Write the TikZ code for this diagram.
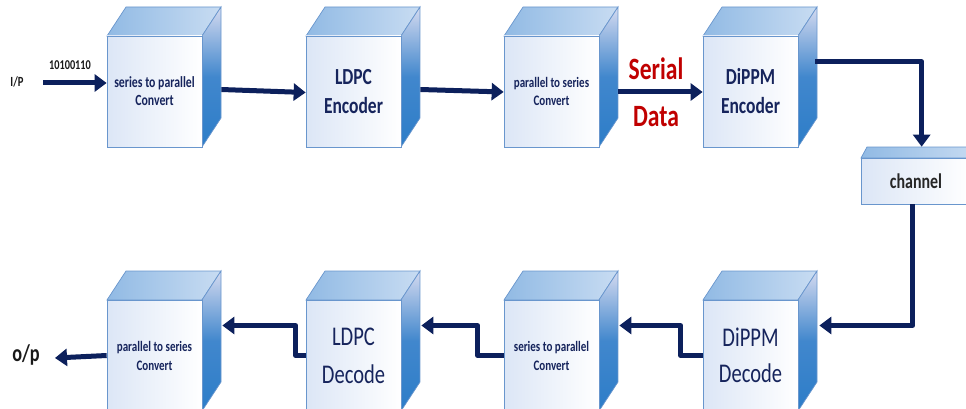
\documentclass[tikz,border=0pt]{standalone}
\usepackage{fontspec}
\setmainfont{Carlito}[FakeStretch=0.76]
\usetikzlibrary{arrows.meta,calc}
\definecolor{navy}{RGB}{12,32,92}
\definecolor{txtnavy}{RGB}{22,36,92}
\definecolor{edgeb}{RGB}{105,150,205}
\definecolor{topl}{RGB}{145,186,228}
\definecolor{topr}{RGB}{200,220,242}
\definecolor{sidet}{RGB}{212,218,240}
\definecolor{sidem}{RGB}{65,135,205}
\definecolor{sideb}{RGB}{45,125,200}
\definecolor{frontl}{RGB}{220,230,246}
\definecolor{serialred}{RGB}{192,0,0}
\tikzset{
  topface/.style={draw=edgeb, line width=0.7pt, left color=topl, right color=topr},
  sideface/.style={draw=edgeb, line width=0.7pt, top color=sidet, bottom color=sideb, middle color=sidem},
  frontface/.style={draw=edgeb, line width=0.7pt, left color=frontl, right color=white, inner sep=0pt, align=center, text=txtnavy},
  conn/.style={draw=navy, line width=5pt, line join=round, -{Triangle[length=12pt,width=17pt]}},
  lbl/.style={inner sep=0pt, text=black!90}
}
\newcommand\blockcube[6]{%
  \begin{scope}[shift={(#2,#3)}]
    \path[topface] (0,0) -- (19,-29) -- (114,-29) -- (95,0) -- cycle;
    \path[sideface] (95,0) -- (114,-29) -- (114,#4-29) -- (95,#4) -- cycle;
    \node[frontface, minimum width=95pt, minimum height=#4pt, font=#5] (#1) at (47.5,#4/2) {#6};
  \end{scope}}
\begin{document}
\begin{tikzpicture}[x=1pt,y=-1pt]
\useasboundingbox (0,0) rectangle (966,409);
\clip (0,0) rectangle (966,409);
% top row
\blockcube{spc}{107}{36}{111}{\fontsize{15.5}{18}\selectfont\bfseries}{series to parallel\\Convert}
\blockcube{ldpce}{306}{36}{111}{\fontsize{23}{29}\selectfont\bfseries}{LDPC\\Encoder}
\blockcube{psc}{504}{36}{111}{\fontsize{14.5}{18}\selectfont\bfseries}{parallel to series\\Convert}
\blockcube{dippme}{703}{36}{111}{\fontsize{23}{29}\selectfont\bfseries}{DiPPM\\Encoder}
% channel
\path[topface] (861,158) -- (867,147) -- (980,147) -- (975,158) -- cycle;
\node[frontface, minimum width=110pt, minimum height=46pt, font=\fontsize{21}{24}\selectfont\bfseries, text=black!85] (chan) at (916,181) {channel};
% bottom row
\blockcube{ps2}{107}{300}{111}{\fontsize{14.5}{19}\selectfont\bfseries}{parallel to series\\Convert}
\blockcube{ldpcd}{306}{300}{111}{\fontsize{27}{38}\selectfont}{LDPC\\Decode}
\blockcube{sp2}{504}{300}{111}{\fontsize{14.5}{19}\selectfont\bfseries}{series to parallel\\Convert}
\blockcube{dippmd}{703}{300}{111}{\fontsize{27}{36}\selectfont}{DiPPM\\Decode}
% labels
\node[lbl, font=\fontsize{14}{14}\selectfont\bfseries] (ipl) at (17,82) {I/P};
\node[lbl, font=\fontsize{13.5}{14}\selectfont\bfseries] (bits) at (70,65) {10100110};
\node[lbl, font=\fontsize{24}{24}\selectfont\bfseries] (opl) at (26,355) {o/p};
\node[lbl, font=\fontsize{31}{31}\selectfont\bfseries, text=serialred] (ser) at (656,69) {Serial};
\node[lbl, font=\fontsize{31}{31}\selectfont\bfseries, text=serialred] (dat) at (656,117) {Data};
\coordinate (ip) at (43,83);
\coordinate (op) at (55,358);
% connectors
\draw[conn] (ip) -- (ip -| spc.west);
\draw[conn] ($(spc.east)+(19,-2)$) -- ($(ldpce.west)+(0,1)$);
\draw[conn] ($(ldpce.east)+(19,-2)$) -- ($(psc.west)+(0,0.5)$);
\draw[conn] ($(psc.east)+(19,0.5)$) -- ($(dippme.west)+(0,0.5)$);
\draw[conn] ($(dippme.north east)+(17,26)$) -| ($(chan.north west)+(61,-11)$);
\draw[conn] ($(chan.south west)+(52,0)$) |- ($(dippmd.east)+(21,-30)$);
\draw[conn] (dippmd.west) -- ++(-22,0) |- ($(sp2.east)+(20,-30)$);
\draw[conn] (sp2.west) -- ++(-26,0) |- ($(ldpcd.east)+(20,-30)$);
\draw[conn] (ldpcd.west) -- ++(-10,0) |- ($(ps2.east)+(20,-30)$);
\draw[conn] (ps2.west) -- (op);
\end{tikzpicture}
\end{document}
